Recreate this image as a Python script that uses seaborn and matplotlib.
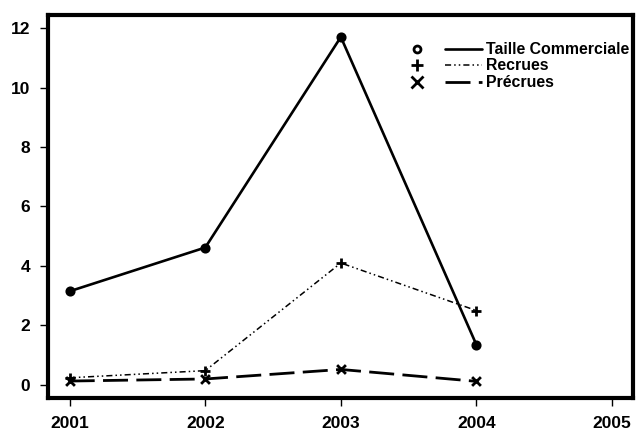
import matplotlib
matplotlib.use("Agg")
import matplotlib.pyplot as plt
import seaborn as sns
import pandas as pd

years = [2001, 2002, 2003, 2004]
taille_commerciale = [3.15, 4.62, 11.7, 1.35]
recrues = [0.24, 0.48, 4.1, 2.5]
precrues = [0.13, 0.2, 0.52, 0.12]
series_names = ["Taille Commerciale", "Recrues", "Précrues"]
xticks = [2001, 2002, 2003, 2004, 2005]
yticks = [0, 2, 4, 6, 8, 10, 12]

sns.set_theme(style="white")
plt.rcParams['font.family'] = ['Liberation Sans', 'DejaVu Sans']
plt.rcParams['font.weight'] = 'bold'
plt.rcParams['text.color'] = 'black'
plt.rcParams['xtick.color'] = 'black'
plt.rcParams['ytick.color'] = 'black'

df = pd.DataFrame({
    "year": years * 3,
    "value": taille_commerciale + recrues + precrues,
    "series": [series_names[0]] * 4 + [series_names[1]] * 4 + [series_names[2]] * 4,
})

fig = plt.figure(figsize=(6.4, 4.32), dpi=100)
ax = fig.add_axes([48/640, 34/432, 585/640, 383/432])

styles = {
    series_names[0]: dict(ls="-", marker="o", s=28, lw=1.9),
    series_names[1]: dict(ls=(0, (4, 2, 1, 2, 1, 2)), marker="+", s=50, lw=1.1),
    series_names[2]: dict(ls=(0, (9, 3)), marker="x", s=40, lw=2.0),
}
for name in series_names:
    sub = df[df["series"] == name]
    st = styles[name]
    sns.lineplot(data=sub, x="year", y="value", ax=ax, color="black",
                 linestyle=st["ls"], lw=st["lw"], legend=False)
    sns.scatterplot(data=sub, x="year", y="value", ax=ax, color="black",
                    marker=st["marker"], s=st["s"], linewidth=2,
                    edgecolor="black", legend=False, zorder=3)

ax.set_xlim(2000.84, 2005.155)
ax.set_ylim(-0.44, 12.44)
ax.set_xticks(xticks)
ax.set_yticks(yticks)
ax.set_xticklabels([str(x) for x in xticks], fontsize=12.5, fontweight="bold")
ax.set_yticklabels([str(y) for y in yticks], fontsize=12.5, fontweight="bold")
ax.tick_params(axis="both", direction="out", length=6, width=1, color="black",
               labelcolor="black", bottom=True, left=True, pad=7)
ax.set_xlabel("")
ax.set_ylabel("")
for sp in ax.spines.values():
    sp.set_linewidth(3)
    sp.set_color("black")

# manual legend
leg_y = [0.911, 0.869, 0.825]
leg_markers = ["o", "+", "x"]
leg_ms = [5, 9, 8]
leg_ls = [styles[n]["ls"] for n in series_names]
leg_lw = [1.9, 1.1, 2.0]
for i, name in enumerate(series_names):
    y = leg_y[i]
    ax.plot([0.631], [y], transform=ax.transAxes, marker=leg_markers[i], color="black",
            ms=leg_ms[i], mew=2, mfc="none" if i == 0 else "black", ls="none")
    ax.plot([0.679, 0.742], [y, y], transform=ax.transAxes, color="black",
            ls=leg_ls[i], lw=leg_lw[i])
    ax.text(0.749, y, name, transform=ax.transAxes, fontsize=11.4, fontweight="bold",
            va="center", ha="left", color="black")

fig.savefig("out.png", dpi=100)
